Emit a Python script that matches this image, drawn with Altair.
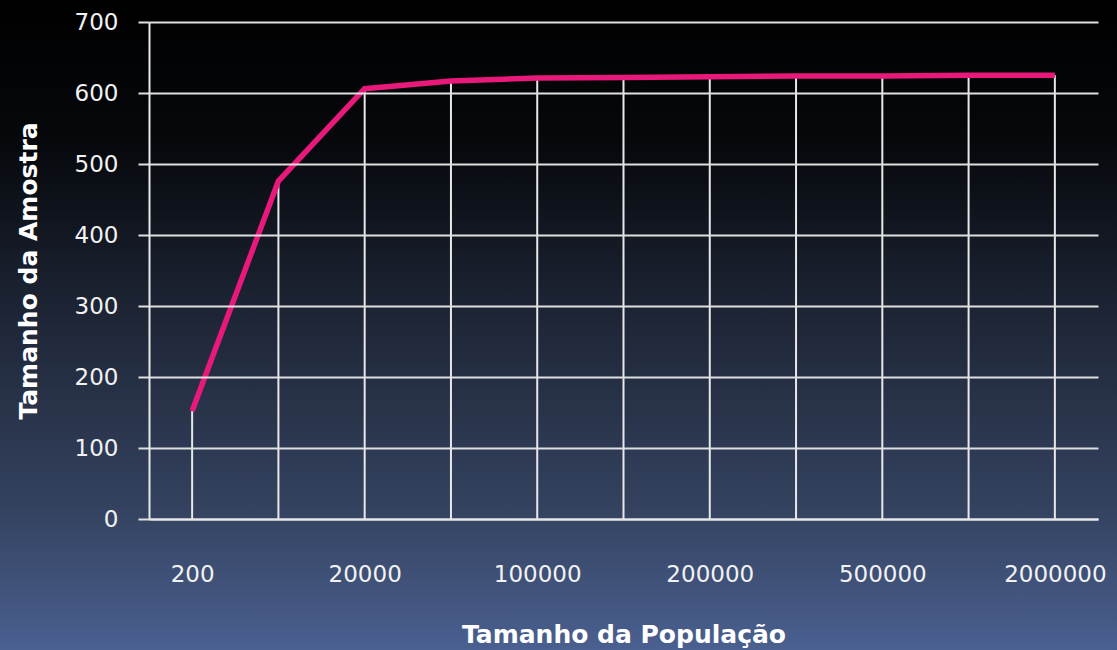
import altair as alt
import pandas as pd

populacao = ["200", "2000", "20000", "50000", "100000", "150000", "200000",
             "300000", "500000", "1000000", "2000000"]
amostra = [152, 476, 606, 617, 621, 622, 623, 624, 624, 625, 625]
rotulos_x = ["200", "20000", "100000", "200000", "500000", "2000000"]
ticks_y = [0, 100, 200, 300, 400, 500, 600, 700]

df = pd.DataFrame({"populacao": populacao, "amostra": amostra})

W, H = 949, 497
PL, PT = 149, 22
TOTAL_W, TOTAL_H = 1117, 650

bg = alt.Chart(pd.DataFrame({"a": [0]})).mark_rect(
    color=alt.Gradient(
        gradient="linear",
        stops=[
            alt.GradientStop(color="#000000", offset=0),
            alt.GradientStop(color="#06080c", offset=0.22),
            alt.GradientStop(color="#1f2738", offset=0.5),
            alt.GradientStop(color="#34425f", offset=0.78),
            alt.GradientStop(color="#4a6090", offset=1),
        ],
        x1=0, x2=0, y1=0, y2=1,
    ),
    clip=False,
).encode(
    x=alt.value(-PL), x2=alt.value(TOTAL_W - PL),
    y=alt.value(-PT), y2=alt.value(TOTAL_H - PT),
)

x_enc = alt.X(
    "populacao:N", sort=populacao,
    scale=alt.Scale(type="point", padding=0.5),
    axis=alt.Axis(
        values=rotulos_x, title="Tamanho da População", labelAngle=0,
        ticks=False, grid=False, domain=True, domainColor="#e8e8e8",
        domainWidth=2, labelFont="DejaVu Sans", labelFontSize=23,
        labelColor="#f2f2f2", labelPadding=44, zindex=1,
        titleFont="DejaVu Sans", titleFontSize=25, titleFontWeight="bold",
        titleColor="#ffffff", titleY=115, titleBaseline="middle",
    ),
)
y_enc = alt.Y(
    "amostra:Q",
    scale=alt.Scale(domain=[0, 700]),
    axis=alt.Axis(
        values=ticks_y, title="Tamanho da Amostra", zindex=1,
        grid=True, gridColor="#e0e0e0", gridWidth=2,
        ticks=True, tickColor="#e0e0e0", tickWidth=2, tickSize=11,
        domain=True, domainColor="#e8e8e8", domainWidth=2,
        labelFont="DejaVu Sans", labelFontSize=23, labelColor="#f2f2f2",
        labelPadding=20,
        titleFont="DejaVu Sans", titleFontSize=25, titleFontWeight="bold",
        titleColor="#ffffff", titleAngle=-90, titleX=-121, titleY=H / 2,
        titleBaseline="middle", titleAlign="center",
    ),
)

drops = alt.Chart(df).mark_rule(color="#e8e8e8", strokeWidth=2).encode(
    x=x_enc, y=y_enc, y2=alt.datum(0)
)
line = alt.Chart(df).mark_line(color="#e8197a", strokeWidth=5.5).encode(
    x=x_enc, y=y_enc
)

chart = alt.layer(bg, drops, line).properties(
    width=W, height=H,
    autosize=alt.AutoSizeParams(type="none"),
    padding={"left": PL, "top": PT, "right": TOTAL_W - PL - W,
             "bottom": TOTAL_H - PT - H},
    background="#000000",
).configure_view(stroke=None)

chart.save("out.html", embed_options={"renderer": "svg", "actions": False})
